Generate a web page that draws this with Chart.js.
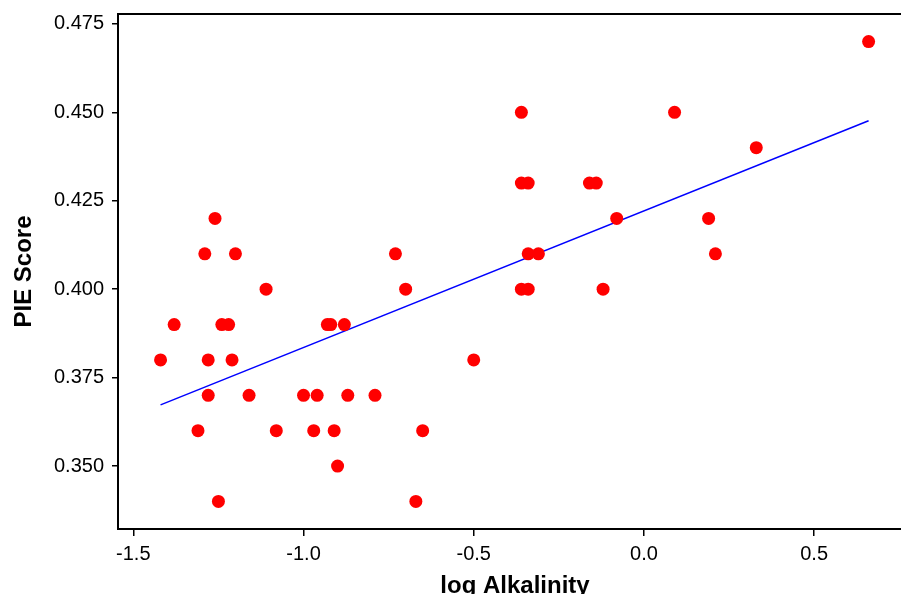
<!DOCTYPE html>
<html>
<head>
<meta charset="utf-8">
<title>PIE Score vs log Alkalinity</title>
<script src="https://cdn.jsdelivr.net/npm/chart.js@4"></script>
<style>
  html, body { margin: 0; padding: 0; background: #fff; overflow: hidden; }
  #wrap { width: 912px; height: 600px; position: relative; }
</style>
</head>
<body>
<div id="wrap"><canvas id="myChart"></canvas></div>
<script>
// sample sites: log alkalinity against PIE score
const logAlkalinity = [
  -1.42, -1.38, -1.31, -1.29, -1.28, -1.28, -1.26, -1.25, -1.24, -1.22,
  -1.21, -1.20, -1.16, -1.11, -1.08, -1.00, -0.97, -0.96, -0.93, -0.92,
  -0.91, -0.90, -0.88, -0.87, -0.79, -0.73, -0.70, -0.67, -0.65, -0.50,
  -0.36, -0.36, -0.36, -0.34, -0.34, -0.34, -0.31, -0.16, -0.14, -0.12,
  -0.08, 0.09, 0.19, 0.21, 0.33, 0.66
];
const pieScore = [
  0.38, 0.39, 0.36, 0.41, 0.38, 0.37, 0.42, 0.34, 0.39, 0.39,
  0.38, 0.41, 0.37, 0.40, 0.36, 0.37, 0.36, 0.37, 0.39, 0.39,
  0.36, 0.35, 0.39, 0.37, 0.37, 0.41, 0.40, 0.34, 0.36, 0.38,
  0.45, 0.43, 0.40, 0.43, 0.41, 0.40, 0.41, 0.43, 0.43, 0.40,
  0.42, 0.45, 0.42, 0.41, 0.44, 0.47
];

// least squares line, end points
const fitX = [-1.42, 0.66];
const fitY = [0.3673, 0.4476];

const xTicks = [-1.5, -1.0, -0.5, 0.0, 0.5];
const yTicks = [0.350, 0.375, 0.400, 0.425, 0.450, 0.475];

const points = logAlkalinity.map((x, i) => ({ x: x, y: pieScore[i] }));
const fitLine = fitX.map((x, i) => ({ x: x, y: fitY[i] }));

const FONT = '"Liberation Sans", Arial, Helvetica, sans-serif';

// closes the box along the top and right of the plot
const frame = {
  id: 'frame',
  afterDraw(chart) {
    const { ctx, chartArea } = chart;
    ctx.save();
    ctx.strokeStyle = '#000';
    ctx.lineWidth = 2;
    ctx.beginPath();
    ctx.moveTo(chartArea.left - 1, chartArea.top);
    ctx.lineTo(chartArea.right, chartArea.top);
    ctx.lineTo(chartArea.right, chartArea.bottom);
    ctx.stroke();
    ctx.restore();
  }
};

const ctx = document.getElementById('myChart').getContext('2d');
new Chart(ctx, {
  type: 'scatter',
  data: {
    datasets: [
      {
        data: points,
        backgroundColor: '#ff0000',
        borderWidth: 0,
        pointRadius: 6.5,
        pointHoverRadius: 6.5
      },
      {
        type: 'line',
        data: fitLine,
        borderColor: '#0000ff',
        borderWidth: 1.5,
        pointRadius: 0,
        fill: false
      }
    ]
  },
  options: {
    responsive: true,
    maintainAspectRatio: false,
    animation: false,
    events: [],
    layout: { autoPadding: false, padding: { top: 14, right: 0, bottom: 0, left: 0 } },
    plugins: {
      legend: { display: false },
      tooltip: { enabled: false }
    },
    scales: {
      x: {
        type: 'linear',
        min: -1.545,
        max: 0.7875,
        afterFit: (scale) => {
          scale.height = 71;
          scale.paddingLeft = 0;
          scale.paddingRight = 0;
        },
        afterBuildTicks: (scale) => { scale.ticks = xTicks.map(v => ({ value: v })); },
        grid: { drawOnChartArea: false, drawTicks: true, tickLength: 7, color: '#000', lineWidth: 1.5 },
        border: { display: true, color: '#000', width: 2 },
        ticks: {
          color: '#000',
          padding: 6,
          maxRotation: 0,
          font: { family: FONT, size: 20 },
          callback: (v) => v.toFixed(1)
        },
        title: {
          display: true,
          text: 'log Alkalinity',
          color: '#000',
          padding: { top: 0, bottom: 2 },
          font: { family: FONT, size: 24, weight: 'bold', lineHeight: 1 }
        }
      },
      y: {
        type: 'linear',
        min: 0.3322,
        max: 0.4778,
        afterFit: (scale) => {
          scale.width = 118;
          scale.paddingTop = 0;
          scale.paddingBottom = 0;
        },
        afterBuildTicks: (scale) => { scale.ticks = yTicks.map(v => ({ value: v })); },
        grid: { drawOnChartArea: false, drawTicks: true, tickLength: 6, color: '#000', lineWidth: 1.5 },
        border: { display: true, color: '#000', width: 2 },
        ticks: {
          color: '#000',
          padding: 8,
          font: { family: FONT, size: 20 },
          callback: (v) => v.toFixed(3)
        },
        title: {
          display: true,
          text: 'PIE Score',
          color: '#000',
          padding: { top: 12, bottom: 0 },
          font: { family: FONT, size: 24, weight: 'bold', lineHeight: 1 }
        }
      }
    }
  },
  plugins: [frame]
});
</script>
</body>
</html>
